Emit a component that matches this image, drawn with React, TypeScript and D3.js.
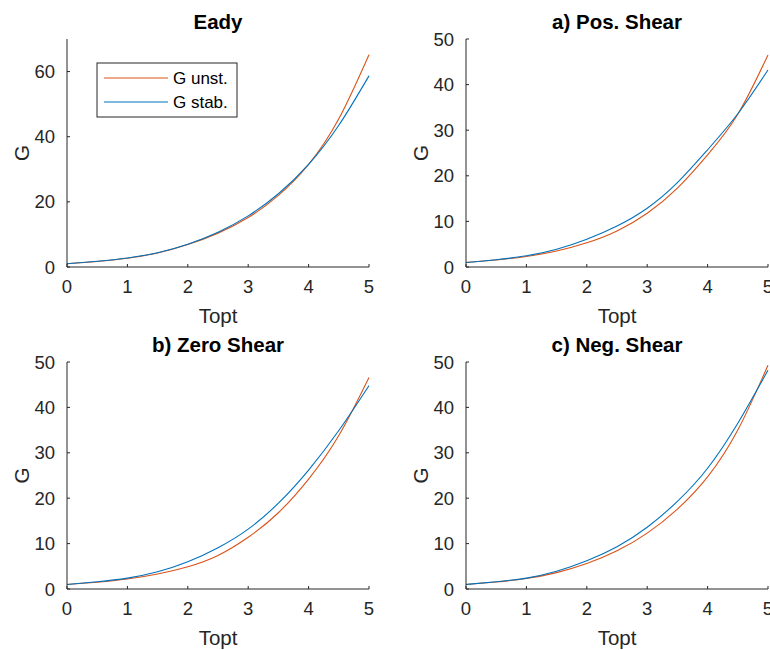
import React from "react";
import * as d3 from "d3";

const topt = [0, 0.5, 1, 1.5, 2, 2.5, 3, 3.5, 4, 4.5, 5];

const eadyUnst = [1.0, 1.7, 2.7, 4.3, 6.9, 10.4, 15.2, 22.0, 31.5, 45.5, 65.2];
const eadyStab = [1.0, 1.75, 2.75, 4.4, 7.0, 10.7, 15.7, 22.5, 31.5, 43.5, 58.7];

const posUnst = [1.0, 1.55, 2.3, 3.5, 5.3, 7.9, 11.8, 17.3, 24.6, 33.5, 46.5];
const posStab = [1.0, 1.6, 2.45, 3.9, 6.1, 9.0, 12.9, 18.5, 25.7, 33.6, 43.2];

const zeroUnst = [1.0, 1.5, 2.2, 3.3, 4.9, 7.4, 11.4, 16.8, 24.2, 33.8, 46.6];
const zeroStab = [1.0, 1.6, 2.4, 3.8, 6.0, 9.1, 13.2, 18.9, 26.2, 34.9, 44.8];

const negUnst = [1.0, 1.55, 2.3, 3.6, 5.6, 8.4, 12.3, 17.6, 24.7, 35.0, 49.3];
const negStab = [1.0, 1.6, 2.4, 3.9, 6.2, 9.3, 13.6, 19.3, 26.6, 36.5, 48.2];

const xTicks = [0, 1, 2, 3, 4, 5];
const yTicksEady = [0, 20, 40, 60];
const yTicksShear = [0, 10, 20, 30, 40, 50];

const titles = ["Eady", "a) Pos. Shear", "b) Zero Shear", "c) Neg. Shear"];
const legendLabels = ["G unst.", "G stab."];

const RED = "#D95319";
const BLUE = "#0072BD";
const AX = "#262626";
const FONT = "'Liberation Sans', Arial, Helvetica, sans-serif";

type PanelProps = {
  left: number;
  top: number;
  width: number;
  height: number;
  yMax: number;
  yTicks: number[];
  unst: number[];
  stab: number[];
  title: string;
  legend?: boolean;
};

function Panel({ left, top, width, height, yMax, yTicks, unst, stab, title, legend }: PanelProps) {
  const x = d3.scaleLinear().domain([0, 5]).range([left, left + width]);
  const y = d3.scaleLinear().domain([0, yMax]).range([top + height, top]);
  const line = d3
    .line<number>()
    .x((_, i) => x(topt[i]))
    .y((d) => y(d))
    .curve(d3.curveNatural);
  const bottom = top + height;
  return (
    <g>
      <path d={line(unst) || ""} fill="none" stroke={RED} strokeWidth={1.1} />
      <path d={line(stab) || ""} fill="none" stroke={BLUE} strokeWidth={1.1} />
      <line x1={left} x2={left + width} y1={bottom} y2={bottom} stroke={AX} strokeWidth={1} />
      <line x1={left} x2={left} y1={top} y2={bottom} stroke={AX} strokeWidth={1} />
      {xTicks.map((t) => (
        <g key={"x" + t}>
          <line x1={x(t)} x2={x(t)} y1={bottom} y2={bottom - 3} stroke={AX} />
          <text x={x(t)} y={bottom + 26} textAnchor="middle" fontSize={18.5} fill={AX} fontFamily={FONT}>
            {t}
          </text>
        </g>
      ))}
      {yTicks.map((t) => (
        <g key={"y" + t}>
          <line x1={left} x2={left + 3} y1={y(t)} y2={y(t)} stroke={AX} />
          <text x={left - 12} y={y(t) + 6.5} textAnchor="end" fontSize={18.5} fill={AX} fontFamily={FONT}>
            {t}
          </text>
        </g>
      ))}
      <text x={left + width / 2} y={bottom + 56} textAnchor="middle" fontSize={20.5} fill={AX} fontFamily={FONT}>
        Topt
      </text>
      <text
        transform={`translate(${left - 38.5},${top + height / 2}) rotate(-90)`}
        textAnchor="middle"
        fontSize={20.5}
        fill={AX}
        fontFamily={FONT}
      >
        G
      </text>
      <text x={left + width / 2} y={top - 10} textAnchor="middle" fontSize={20.5} fontWeight="bold" fill="#000" fontFamily={FONT}>
        {title}
      </text>
      {legend && (
        <g>
          <rect x={97} y={63} width={140} height={54} fill="#fff" stroke={AX} strokeWidth={1} />
          <line x1={104} x2={168} y1={78} y2={78} stroke={RED} strokeWidth={1.1} />
          <line x1={104} x2={168} y1={102} y2={102} stroke={BLUE} strokeWidth={1.1} />
          <text x={173} y={84} fontSize={17} fill="#000" fontFamily={FONT}>
            {legendLabels[0]}
          </text>
          <text x={173} y={108} fontSize={17} fill="#000" fontFamily={FONT}>
            {legendLabels[1]}
          </text>
        </g>
      )}
    </g>
  );
}

export default function App() {
  return (
    <svg width={770} height={650} style={{ position: "absolute", left: 0, top: 0, background: "#fff" }}>
      <rect width={770} height={650} fill="#fff" />
      <Panel left={67} top={39} width={302} height={228} yMax={70} yTicks={yTicksEady} unst={eadyUnst} stab={eadyStab} title={titles[0]} legend />
      <Panel left={466} top={39} width={302} height={228} yMax={50} yTicks={yTicksShear} unst={posUnst} stab={posStab} title={titles[1]} />
      <Panel left={67} top={362} width={302} height={227} yMax={50} yTicks={yTicksShear} unst={zeroUnst} stab={zeroStab} title={titles[2]} />
      <Panel left={466} top={362} width={302} height={227} yMax={50} yTicks={yTicksShear} unst={negUnst} stab={negStab} title={titles[3]} />
    </svg>
  );
}
